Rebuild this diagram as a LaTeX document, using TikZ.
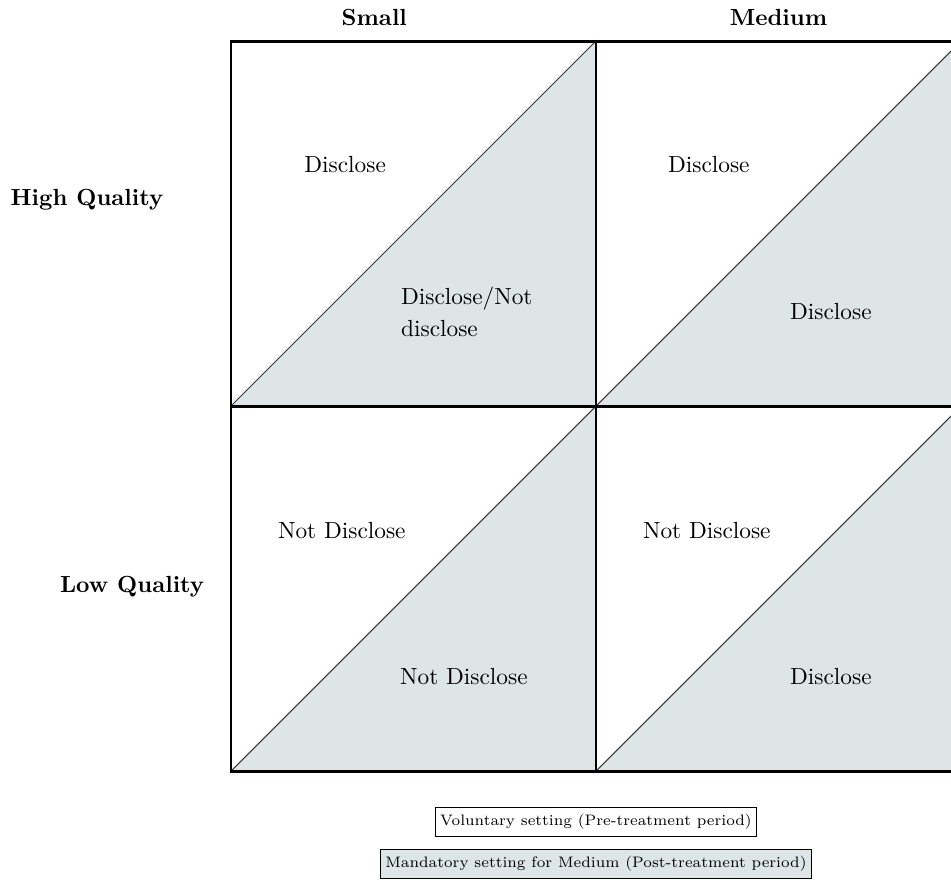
\documentclass[tikz,border=0pt]{standalone}
\definecolor{postfill}{RGB}{221,229,230}
\begin{document}
\begin{tikzpicture}[
    x=1cm,
    y=1cm,
    grid/.style={very thick},
    split/.style={draw=black!80,thin},
    cell/.style={font=\normalsize},
    header/.style={font=\bfseries},
    legend/.style={draw,thin,font=\fontsize{6.5}{8}\selectfont,
      inner xsep=2pt,inner ysep=3pt}
  ]
    \useasboundingbox (0,0) rectangle (14.33,13.32);
    \clip (0,0) rectangle (14.33,13.32);

    % shaded lower-right halves
    \foreach \x in {3.48,8.98}
      \foreach \y in {1.70,7.20}
        \fill[postfill] (\x,\y) -- (\x+5.5,\y) -- (\x+5.5,\y+5.5) -- cycle;
    \foreach \x in {3.48,8.98}
      \foreach \y in {1.70,7.20}
        \draw[split] (\x,\y) -- (\x+5.5,\y+5.5);

    \draw[grid] (3.48,1.70) rectangle (14.48,12.70);
    \draw[grid] (8.98,1.70) -- (8.98,12.70);
    \draw[grid] (3.48,7.20) -- (14.48,7.20);

    \node[header] (small) at (5.64,13.05) {Small};
    \node[header] (medium) at (11.73,13.05) {Medium};
    \node[header] (high) at (1.31,10.31) {High Quality};
    \node[header] (low) at (1.99,4.48) {Low Quality};

    \node[cell] (hs-pre) at (5.20,10.84) {Disclose};
    \node[cell,align=left,anchor=west] (hs-post) at (5.92,8.62)
      {Disclose/Not\\[1.4pt]disclose};
    \node[cell] (hm-pre) at (10.68,10.84) {Disclose};
    \node[cell] (hm-post) at (12.52,8.62) {Disclose};
    \node[cell] (ls-pre) at (5.15,5.33) {Not Disclose};
    \node[cell] (ls-post) at (6.99,3.12) {Not Disclose};
    \node[cell] (lm-pre) at (10.65,5.33) {Not Disclose};
    \node[cell] (lm-post) at (12.52,3.12) {Disclose};

    \node[legend] (voluntary) at (8.98,0.94)
      {Voluntary setting (Pre-treatment period)};
    \node[legend,fill=postfill] (mandatory) at (8.98,0.30)
      {Mandatory setting for Medium (Post-treatment period)};
  \end{tikzpicture}
\end{document}
